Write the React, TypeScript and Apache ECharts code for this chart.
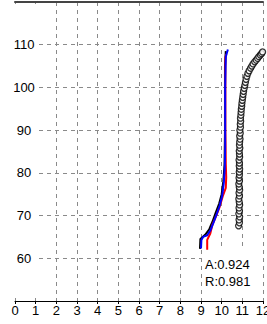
import React, { useEffect, useRef } from "react";
import * as echarts from "echarts";

const xTicks = [0, 1, 2, 3, 4, 5, 6, 7, 8, 9, 10, 11, 12];
const yTicks = [50, 60, 70, 80, 90, 100, 110, 120];

const blackLine: [number, number][] = [
  [8.95, 62.2], [8.97, 64.5], [9.2, 65.5], [9.4, 66.8], [9.55, 68.5], [9.7, 70.5],
  [9.88, 72.8], [10.0, 75.0], [10.08, 78.0], [10.14, 82.0], [10.16, 90.0],
  [10.16, 105.0], [10.2, 108.5],
];
const redLine: [number, number][] = [
  [9.3, 62.0], [9.3, 64.3], [9.45, 65.8], [9.55, 67.8], [9.7, 69.5], [9.9, 72.0],
  [10.05, 74.5], [10.2, 76.5], [10.22, 79.0], [10.2, 82.0], [10.18, 90.0],
  [10.18, 107.0], [10.22, 107.8],
];
const blueLine: [number, number][] = [
  [9.0, 62.3], [9.02, 64.3], [9.1, 65.0], [9.3, 65.4], [9.45, 66.5], [9.6, 68.3],
  [9.75, 70.2], [9.9, 72.3], [10.02, 74.5], [10.1, 77.5], [10.15, 81.0],
  [10.17, 86.0], [10.17, 100.0], [10.2, 107.2], [10.3, 108.9],
];
const circlePoints: [number, number][] = [
  [10.82, 67.6], [10.86, 68.3], [10.84, 69.0], [10.87, 69.7], [10.83, 70.4], [10.86, 71.1],
  [10.84, 71.8], [10.87, 72.5], [10.85, 73.2], [10.83, 73.9], [10.86, 74.6], [10.84, 75.3],
  [10.87, 76.0], [10.85, 76.7], [10.83, 77.4], [10.86, 78.1], [10.84, 78.8], [10.86, 79.5],
  [10.85, 80.2], [10.87, 80.9], [10.85, 81.6], [10.86, 82.3], [10.84, 83.0], [10.87, 83.7],
  [10.86, 84.4], [10.85, 85.1], [10.88, 85.8], [10.86, 86.5], [10.87, 87.2], [10.89, 87.9],
  [10.87, 88.6], [10.9, 89.3], [10.88, 90.0], [10.91, 90.7], [10.9, 91.4], [10.92, 92.1],
  [10.91, 92.8], [10.93, 93.5], [10.94, 94.2], [10.95, 94.9], [10.97, 95.6], [10.98, 96.3],
  [11.0, 97.0], [11.02, 97.7], [11.04, 98.4], [11.06, 99.1], [11.09, 99.8], [11.12, 100.5],
  [11.15, 101.2], [11.18, 101.9], [11.22, 102.6], [11.27, 103.3], [11.33, 103.9],
  [11.4, 104.5], [11.46, 105.0], [11.52, 105.5], [11.6, 106.0], [11.67, 106.4],
  [11.74, 106.8], [11.8, 107.2], [11.87, 107.6], [11.93, 107.9], [11.98, 108.3], [12.03, 108.6],
];
const statLines = ["A:0.924", "R:0.981"];

const FONT = "'Liberation Sans', Arial, sans-serif";

export default function App() {
  const ref = useRef<HTMLDivElement>(null);
  useEffect(() => {
    if (!ref.current) return;
    const chart = echarts.init(ref.current, null, { renderer: "svg" });
    const xMin = xTicks[0];
    const xMax = xTicks[xTicks.length - 1];
    const yMin = yTicks[0];
    const yMax = yTicks[yTicks.length - 1];
    const dashed = { show: true, lineStyle: { color: "#8a8a8a", type: [4, 4] as any, width: 1 } };
    chart.setOption({
      animation: false,
      backgroundColor: "#ffffff",
      grid: { left: 15, right: 4, top: 2, bottom: 23, containLabel: false, outerBoundsMode: "none" },
      xAxis: [
        {
          type: "value", min: xMin, max: xMax, interval: 1, position: "bottom", z: 10,
          axisLine: { show: true, lineStyle: { color: "#000", width: 1 } },
          axisTick: { show: true, length: 3, lineStyle: { color: "#000" } },
          axisLabel: { color: "#000", fontSize: 13, fontFamily: FONT, margin: 3 },
          splitLine: { show: false },
        },
        {
          type: "value", min: xMin, max: xMax, interval: 1, position: "top", z: 0,
          axisLine: { show: true, lineStyle: { color: "#444", width: 2 } },
          axisTick: { show: false },
          axisLabel: { show: false },
          splitLine: dashed,
        },
      ],
      yAxis: [
        {
          type: "value", min: yMin, max: yMax, interval: 10, z: 10,
          axisLine: { show: false }, axisTick: { show: false },
          axisLabel: {
            inside: true, align: "center", margin: 9, color: "#000", fontSize: 13,
            fontFamily: FONT, showMinLabel: false, showMaxLabel: false,
          },
          splitLine: { show: false },
        },
        {
          type: "value", min: yMin, max: yMax, interval: 10, z: 0,
          axisLine: { show: false }, axisTick: { show: false }, axisLabel: { show: false },
          splitLine: dashed,
        },
      ],
      graphic: [
        { type: "rect", z: 1, shape: { x: 15, y: 4, width: 22, height: 294 }, style: { fill: "#fff" } },
        { type: "rect", z: 1, shape: { x: 202, y: 250, width: 59, height: 48 }, style: { fill: "#fff" } },
        {
          type: "text", z: 6, left: 205, top: 256,
          style: { text: statLines.join("\n"), fill: "#000", fontSize: 13, fontFamily: FONT, lineHeight: 17 },
        },
      ],
      series: [
        { type: "line", data: blackLine, showSymbol: false, lineStyle: { color: "#000", width: 2 }, z: 2 },
        { type: "line", data: redLine, showSymbol: false, lineStyle: { color: "#ff0000", width: 2 }, z: 3 },
        { type: "line", data: blueLine, showSymbol: false, lineStyle: { color: "#0000ff", width: 2 }, z: 4 },
        {
          type: "scatter", data: circlePoints, symbol: "circle", symbolSize: 6, z: 5,
          itemStyle: { color: "#fff", borderColor: "#000", borderWidth: 1.3 },
        },
      ],
    });
    return () => chart.dispose();
  }, []);
  return <div ref={ref} style={{ position: "fixed", left: 0, top: 0, width: 267, height: 324 }} />;
}
